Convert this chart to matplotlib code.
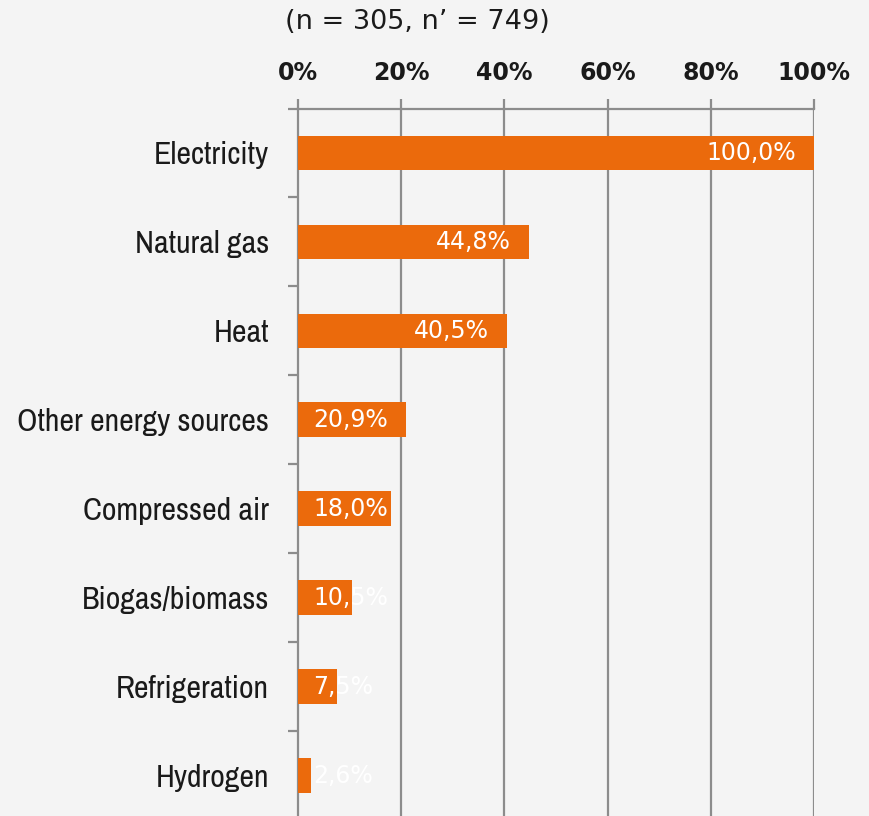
import matplotlib
matplotlib.use("Agg")
import matplotlib.pyplot as plt
from matplotlib.ticker import FixedLocator

categories = ["Electricity", "Natural gas", "Heat", "Other energy sources",
              "Compressed air", "Biogas/biomass", "Refrigeration", "Hydrogen"]
values = [100.0, 44.8, 40.5, 20.9, 18.0, 10.5, 7.5, 2.6]
xticks = [0, 20, 40, 60, 80, 100]
subtitle = "(n = 305, n\u2019 = 749)"

BG = "#f4f4f4"
BAR = "#eb6a0c"
GRID = "#8c8c8c"
TEXT = "#1a1a1a"

fig = plt.figure(figsize=(8.7, 8.16), dpi=100, facecolor=BG)
ax = fig.add_axes([298 / 870, -4 / 816, 516 / 870, (820 - 108.5) / 816])
ax.set_facecolor(BG)

y = list(range(len(categories)))
ax.barh(y, values, height=0.39, color=BAR, zorder=3)

ax.set_xlim(0, 100)
ax.set_ylim(len(categories) - 0.5, -0.5)

# vertical grid
for t in xticks[1:]:
    ax.axvline(t, color=GRID, lw=1.6, zorder=1)

for s in ["right", "bottom"]:
    ax.spines[s].set_visible(False)
for s in ["top", "left"]:
    ax.spines[s].set_color(GRID)
    ax.spines[s].set_linewidth(1.6)
    ax.spines[s].set_zorder(2)

ax.xaxis.tick_top()
ax.set_xticks(xticks)
ax.set_xticklabels([f"{t}%" for t in xticks], fontfamily="DejaVu Sans",
                   fontweight="bold", fontsize=17, color=TEXT)
ax.tick_params(axis="x", which="major", length=7, width=1.6, color=GRID,
               pad=10, top=True, bottom=False)

ax.set_yticks(y)
ax.set_yticklabels(categories, fontfamily=["Archivo Narrow", "DejaVu Sans"],
                   fontsize=23, color=TEXT)
ax.tick_params(axis="y", which="major", length=0, pad=21)
ax.yaxis.set_minor_locator(FixedLocator([i + 0.5 for i in range(-1, len(categories))]))
ax.tick_params(axis="y", which="minor", length=7.5, width=1.6, color=GRID)

for yi, v in zip(y, values):
    label = f"{v:.1f}%".replace(".", ",")
    if v >= 25:
        ax.text(v - 3.5, yi, label, ha="right", va="center", color="white",
                fontfamily="DejaVu Sans", fontsize=17, zorder=4)
    else:
        ax.text(3.0, yi, label, ha="left", va="center", color="white",
                fontfamily="DejaVu Sans", fontsize=17, zorder=4)

fig.text(417 / 870, 1 - 22 / 816, subtitle, ha="center", va="center",
         fontfamily="DejaVu Sans", fontsize=19.5, color=TEXT)

fig.savefig("out.png", dpi=100, facecolor=BG)
